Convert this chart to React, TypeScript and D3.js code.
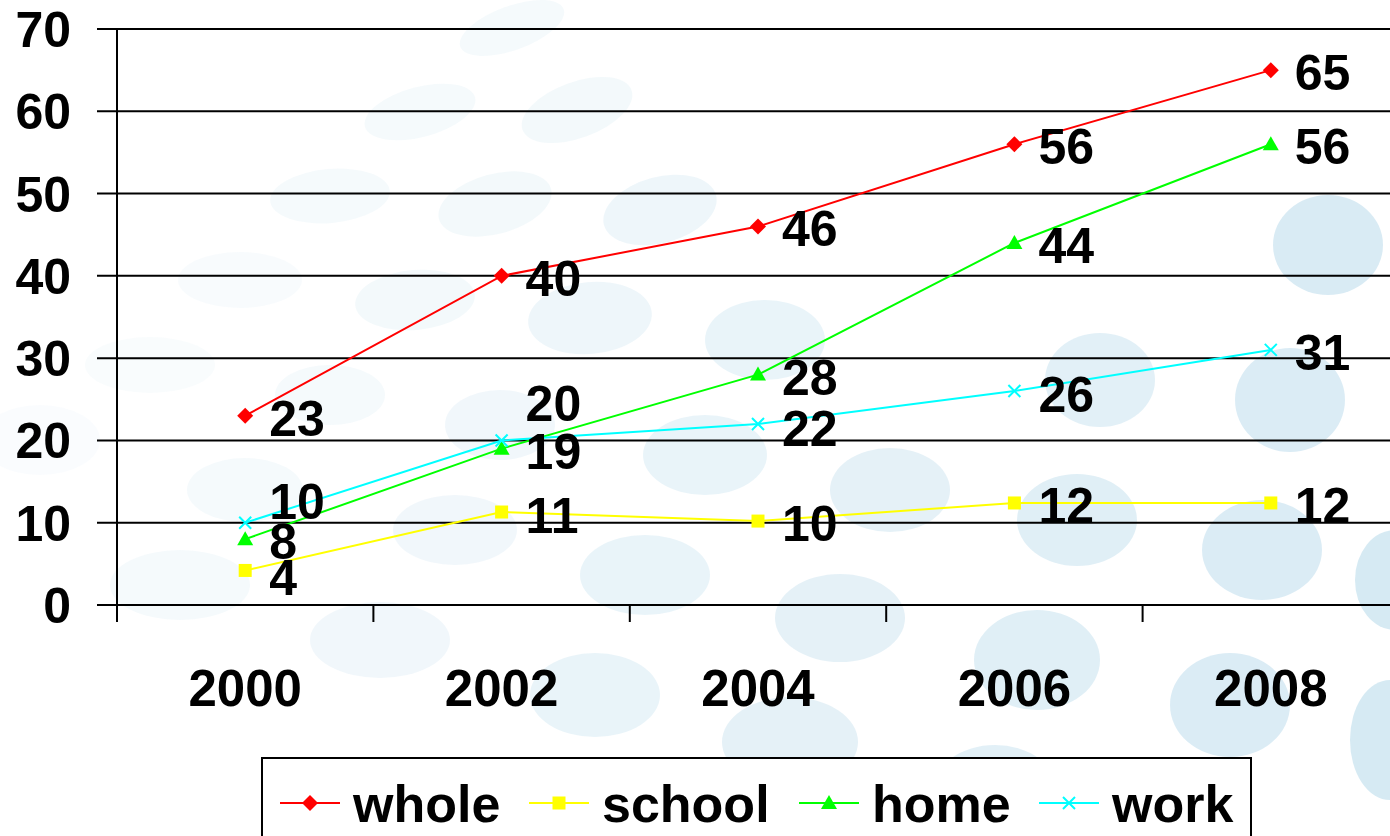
import React from "react";
import * as d3 from "d3";

const years = ["2000", "2002", "2004", "2006", "2008"];
const whole = [23, 40, 46, 56, 65];
const school = [4.2, 11.3, 10.2, 12.4, 12.4];
const home = [8, 19, 28, 44, 56];
const work = [10, 20, 22, 26, 31];
const yTicks = [0, 10, 20, 30, 40, 50, 60, 70];

const seriesNames = ["whole", "school", "home", "work"];
const seriesColors = ["#ff0000", "#ffff00", "#00ff00", "#00ffff"];
const seriesMarkers = ["diamond", "square", "triangle", "x"];

// label vertical nudges (layout only), per series per point
const labelNudge: number[][] = [
  [0, 0, 0, 0, 0],
  [5, 1, 0, 0, 0],
  [0, 0, 0, 0, 0],
  [-24, -39, 2, 1, 0],
];

// decorative background bubbles: [cx, cy, rx, ry, rotate, opacity]
const bubbles: number[][] = [
  [512, 28, 55, 22, -20, 0.2],
  [420, 112, 57, 25, -15, 0.2],
  [577, 110, 58, 28, -20, 0.25],
  [330, 196, 60, 27, -5, 0.2],
  [495, 204, 58, 30, -15, 0.25],
  [660, 210, 58, 33, -15, 0.35],
  [240, 280, 62, 28, 0, 0.15],
  [415, 300, 60, 30, -5, 0.25],
  [590, 318, 62, 36, -5, 0.35],
  [765, 340, 60, 40, 0, 0.45],
  [150, 365, 65, 28, 0, 0.12],
  [330, 395, 55, 30, 0, 0.2],
  [500, 425, 55, 35, 0, 0.3],
  [705, 455, 62, 40, 0, 0.45],
  [890, 490, 60, 42, 0, 0.55],
  [1100, 380, 55, 47, 0, 0.6],
  [1290, 400, 55, 52, 0, 0.75],
  [1328, 245, 55, 50, 0, 0.8],
  [245, 490, 58, 32, 0, 0.2],
  [455, 530, 62, 35, 0, 0.3],
  [645, 575, 65, 40, 0, 0.45],
  [840, 618, 65, 44, 0, 0.55],
  [1077, 520, 60, 46, 0, 0.65],
  [1262, 550, 60, 50, 0, 0.75],
  [180, 585, 70, 35, 0, 0.2],
  [380, 640, 70, 38, 0, 0.3],
  [595, 695, 65, 42, 0, 0.45],
  [790, 742, 68, 45, 0, 0.55],
  [1037, 660, 63, 50, 0, 0.65],
  [1230, 705, 60, 52, 0, 0.75],
  [1395, 580, 40, 50, 0, 0.85],
  [1390, 740, 40, 60, 0, 0.85],
  [995, 790, 62, 45, 0, 0.6],
  [1185, 820, 60, 40, 0, 0.75],
  [40, 440, 60, 35, 0, 0.1],
];

const FONT = "'Liberation Sans', Arial, Helvetica, sans-serif";

function Marker({ type, x, y, color }: { type: string; x: number; y: number; color: string }) {
  if (type === "diamond") {
    const s = 8;
    return <path d={`M${x},${y - s}L${x + s},${y}L${x},${y + s}L${x - s},${y}Z`} fill={color} />;
  }
  if (type === "square") {
    const s = 6.5;
    return <rect x={x - s} y={y - s} width={2 * s} height={2 * s} fill={color} />;
  }
  if (type === "triangle") {
    return <path d={`M${x},${y - 8}L${x + 8},${y + 6}L${x - 8},${y + 6}Z`} fill={color} />;
  }
  const s = 6;
  return (
    <path d={`M${x - s},${y - s}L${x + s},${y + s}M${x - s},${y + s}L${x + s},${y - s}`} stroke={color} strokeWidth={2} />
  );
}

export default function App() {
  const W = 1390;
  const H = 836;
  const x = d3.scaleBand<string>().domain(years).range([117, 1399]).padding(0);
  const y = d3.scaleLinear().domain([0, 70]).range([605, 29]);
  const cx = (yr: string) => (x(yr) as number) + x.bandwidth() / 2;
  const allSeries = [whole, school, home, work];
  const line = d3
    .line<number>()
    .x((_, i) => cx(years[i]))
    .y((v) => y(v));

  const legendStarts = [280, 529, 799, 1039];

  return (
    <svg
      width={W}
      height={H}
      style={{ position: "fixed", left: 0, top: 0, background: "#fff" }}
      fontFamily={FONT}
      fontWeight="bold"
    >
      <rect width={W} height={H} fill="#fff" />
      <g>
        {bubbles.map((b, i) => (
          <ellipse
            key={i}
            cx={b[0]}
            cy={b[1]}
            rx={b[2]}
            ry={b[3]}
            transform={`rotate(${b[4]},${b[0]},${b[1]})`}
            fill="#cfe6f1"
            opacity={b[5]}
          />
        ))}
      </g>
      {yTicks.map((t) => (
        <line key={t} x1={97} x2={W} y1={y(t)} y2={y(t)} stroke="#000" strokeWidth={2} />
      ))}
      <line x1={117} x2={117} y1={y(70)} y2={622} stroke="#000" strokeWidth={2} />
      {years.map((yr, i) =>
        i === 0 ? null : (
          <line key={yr} x1={x(yr)} x2={x(yr)} y1={605} y2={622} stroke="#000" strokeWidth={2} />
        )
      )}
      {yTicks.map((t) => (
        <text key={t} x={71} y={y(t) + 18} textAnchor="end" fontSize={50}>
          {t}
        </text>
      ))}
      {years.map((yr) => (
        <text key={yr} x={cx(yr)} y={706} textAnchor="middle" fontSize={51}>
          {yr}
        </text>
      ))}
      {allSeries.map((s, si) => (
        <g key={seriesNames[si]}>
          <path d={line(s) || ""} fill="none" stroke={seriesColors[si]} strokeWidth={2} />
          {s.map((v, i) => (
            <Marker key={i} type={seriesMarkers[si]} x={cx(years[i])} y={y(v)} color={seriesColors[si]} />
          ))}
        </g>
      ))}
      {allSeries.map((s, si) => (
        <g key={"lbl" + si}>
          {s.map((v, i) => (
            <text key={i} x={cx(years[i]) + 24} y={y(v) + 20 + labelNudge[si][i]} fontSize={50} fill="#000">
              {Math.round(v)}
            </text>
          ))}
        </g>
      ))}
      <rect x={262} y={758} width={989} height={100} fill="#fff" stroke="#000" strokeWidth={2} />
      {seriesNames.map((n, i) => {
        const lx = legendStarts[i];
        return (
          <g key={n}>
            <line x1={lx} x2={lx + 60} y1={803} y2={803} stroke={seriesColors[i]} strokeWidth={2} />
            <Marker type={seriesMarkers[i]} x={lx + 30} y={803} color={seriesColors[i]} />
            <text x={lx + 73} y={822} fontSize={52}>
              {n}
            </text>
          </g>
        );
      })}
    </svg>
  );
}
